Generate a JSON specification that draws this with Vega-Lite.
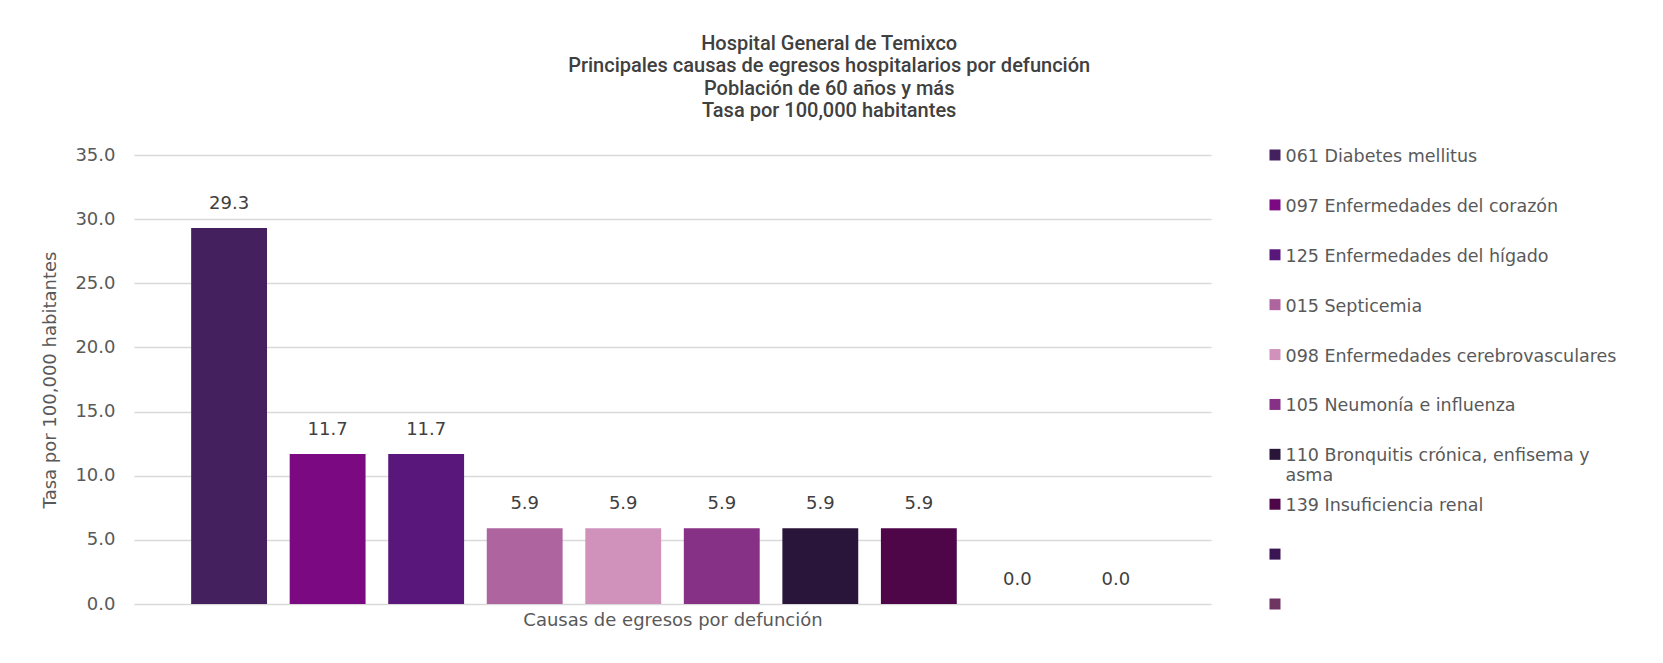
{
  "$schema": "https://vega.github.io/schema/vega-lite/v6.json",
  "padding": {"left": 41, "top": 33, "right": 5, "bottom": 5},
  "background": "white",
  "title": {
    "text": ["Hospital General de Temixco", "Principales causas de egresos hospitalarios por defunción", "Población de 60 años y más", "Tasa por 100,000 habitantes"],
    "font": "Roboto", "fontSize": 20, "fontWeight": 500, "color": "#404040",
    "lineHeight": 22.5, "anchor": "middle", "frame": "bounds", "offset": 25
  },
  "datasets": {
    "egresos": [
      {"causa": "061 Diabetes mellitus", "etiqueta": "061 Diabetes mellitus", "tasa": 29.3},
      {"causa": "097 Enfermedades del corazón", "etiqueta": "097 Enfermedades del corazón", "tasa": 11.7},
      {"causa": "125 Enfermedades del hígado", "etiqueta": "125 Enfermedades del hígado", "tasa": 11.7},
      {"causa": "015 Septicemia", "etiqueta": "015 Septicemia", "tasa": 5.9},
      {"causa": "098 Enfermedades cerebrovasculares", "etiqueta": "098 Enfermedades cerebrovasculares", "tasa": 5.9},
      {"causa": "105 Neumonía e influenza", "etiqueta": "105 Neumonía e influenza", "tasa": 5.9},
      {"causa": "110 Bronquitis crónica, enfisema y asma", "etiqueta": "110 Bronquitis crónica, enfisema y\nasma", "tasa": 5.9},
      {"causa": "139 Insuficiencia renal", "etiqueta": "139 Insuficiencia renal", "tasa": 5.9},
      {"causa": "Sin nombre 1", "etiqueta": "", "tasa": 0},
      {"causa": "Sin nombre 2", "etiqueta": "", "tasa": 0}
    ]
  },
  "data": {"name": "egresos"},
  "spacing": 54,
  "resolve": {"scale": {"y": "independent", "color": "shared"}},
  "hconcat": [
    {
      "width": 1077,
      "height": 449,
      "encoding": {
        "x": {
          "field": "causa", "type": "nominal", "sort": null,
          "scale": {"paddingInner": 0.23, "paddingOuter": 0.58},
          "axis": {"labels": false, "ticks": false, "domain": false,
                   "title": "Causas de egresos por defunción", "titleFontSize": 18,
                   "titleColor": "#595959", "titleFontWeight": "normal", "titlePadding": 7}
        },
        "y": {
          "field": "tasa", "type": "quantitative",
          "scale": {"domain": [0, 35], "nice": false},
          "axis": {"values": [0, 5, 10, 15, 20, 25, 30, 35], "format": ".1f",
                   "title": "Tasa por 100,000 habitantes", "labelFontSize": 18,
                   "labelColor": "#595959", "labelPadding": 19, "ticks": false, "domain": false,
                   "grid": true, "gridColor": "#D9D9D9", "gridWidth": 1.5,
                   "titleFontSize": 18, "titleColor": "#595959", "titleFontWeight": "normal",
                   "titlePadding": 15}
        }
      },
      "layer": [
        {
          "mark": {"type": "bar"},
          "encoding": {
            "color": {
              "field": "causa", "type": "nominal", "sort": null,
              "scale": {
                "domain": ["061 Diabetes mellitus", "097 Enfermedades del corazón", "125 Enfermedades del hígado", "015 Septicemia", "098 Enfermedades cerebrovasculares", "105 Neumonía e influenza", "110 Bronquitis crónica, enfisema y asma", "139 Insuficiencia renal", "Sin nombre 1", "Sin nombre 2"],
                "range": ["#44205F", "#7B0A82", "#59167B", "#AE649E", "#D092BB", "#863086", "#29143A", "#4E0649", "#3B1453", "#6E3462"]
              },
              "legend": null
            }
          }
        },
        {
          "mark": {"type": "text", "baseline": "middle", "dy": -24, "fontSize": 18, "color": "#404040"},
          "encoding": {"text": {"field": "tasa", "type": "quantitative", "format": ".1f"}}
        }
      ]
    },
    {
      "width": 20,
      "height": 449,
      "encoding": {
        "y": {"field": "causa", "type": "nominal", "sort": null,
              "scale": {"type": "point", "padding": 0}, "axis": null}
      },
      "layer": [
        {
          "mark": {"type": "square", "size": 121, "opacity": 1, "filled": true},
          "encoding": {
            "color": {"field": "causa", "type": "nominal", "sort": null, "legend": null}
          }
        },
        {
          "mark": {"type": "text", "align": "left", "baseline": "top", "dx": 10.5, "dy": -7,
                   "fontSize": 17.5, "color": "#595959", "lineBreak": "\n"},
          "encoding": {"text": {"field": "etiqueta", "type": "nominal"}}
        }
      ]
    }
  ],
  "config": {"view": {"stroke": null}, "font": "DejaVu Sans"}
}
